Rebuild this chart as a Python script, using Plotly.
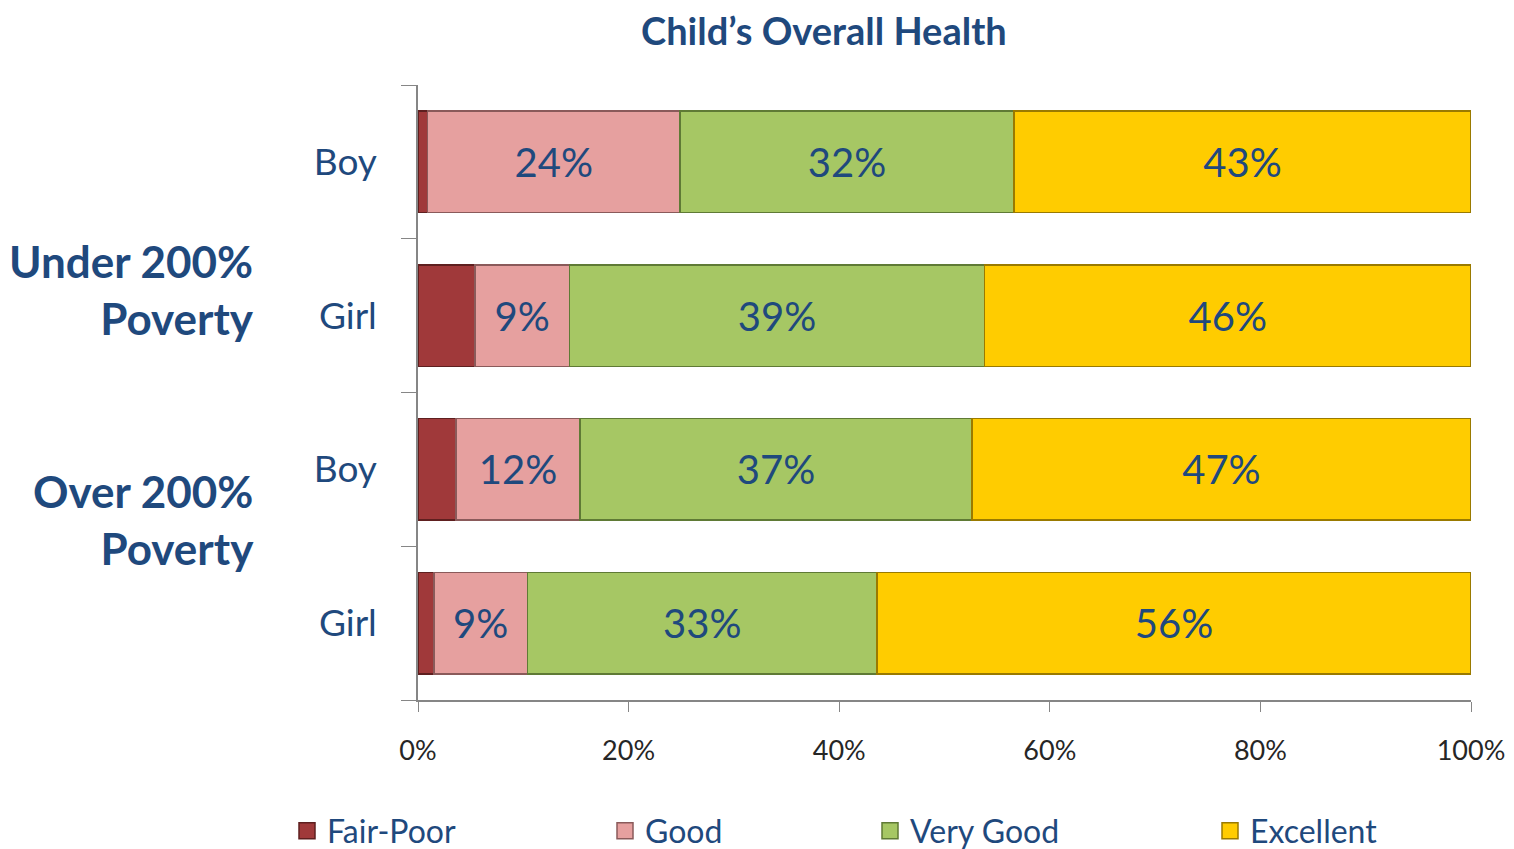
import plotly.graph_objects as go

# rows top to bottom
row_labels = ["Boy", "Girl", "Boy", "Girl"]
row_pos = [0, 1, 2, 3]
group_labels = ["Under 200%<br>Poverty", "Over 200%<br>Poverty"]

series_names = ["Fair-Poor", "Good", "Very Good", "Excellent"]
fair_poor = [0.9, 5.4, 3.6, 1.5]
good = [24.0, 9.0, 11.8, 8.9]
very_good = [31.7, 39.4, 37.2, 33.2]
excellent = [43.4, 46.2, 47.4, 56.4]

x_ticks = [0, 20, 40, 60, 80, 100]
x_tick_text = ["0%", "20%", "40%", "60%", "80%", "100%"]

colors = ["#A0393A", "#E6A09F", "#A6C764", "#FFCC00"]
edge_colors = ["#5E1F1F", "#8A5A5A", "#5F7A35", "#9A7A00"]
navy = "#1F497D"
font_family = "Lato, 'Open Sans', sans-serif"

# the page body adds an 8px offset, so the figure is sized to fit inside it
W, H = 1506, 841
legend_x = [279, 597, 862, 1202]  # left edge of each legend entry, px

fig = go.Figure()
all_vals = [fair_poor, good, very_good, excellent]
for i, (name, vals) in enumerate(zip(series_names, all_vals)):
    fig.add_trace(go.Bar(
        name=name,
        x=vals,
        y=row_pos,
        orientation="h",
        marker=dict(color=colors[i], line=dict(color=edge_colors[i], width=1.5)),
        texttemplate=None if i == 0 else "%{x:.0f}%",
        textposition="none" if i == 0 else "inside",
        insidetextanchor="middle",
        textangle=0,
        textfont=dict(size=40, color=navy, family=font_family),
        hoverinfo="skip",
        showlegend=False,
    ))

# legend entries with bigger square swatches, each in its own legend
for i, name in enumerate(series_names):
    key = "legend" if i == 0 else "legend%d" % (i + 1)
    fig.add_trace(go.Scatter(
        name=name,
        x=[None], y=[None],
        mode="markers",
        marker=dict(symbol="square", size=18, color=colors[i],
                    line=dict(color=edge_colors[i], width=1.5)),
        legend=key,
        hoverinfo="skip",
    ))

legend_common = dict(
    orientation="h",
    yanchor="middle",
    y=-0.213,
    xanchor="left",
    font=dict(size=32, color=navy, family=font_family),
    bgcolor="rgba(0,0,0,0)",
)

fig.update_layout(
    width=W,
    height=H,
    barmode="stack",
    bargap=0.34,
    plot_bgcolor="white",
    paper_bgcolor="white",
    margin=dict(l=410, r=43, t=77, b=149, autoexpand=False),
    font=dict(family=font_family),
    legend=dict(x=(legend_x[0] - 410) / 1053, **legend_common),
    legend2=dict(x=(legend_x[1] - 410) / 1053, **legend_common),
    legend3=dict(x=(legend_x[2] - 410) / 1053, **legend_common),
    legend4=dict(x=(legend_x[3] - 410) / 1053, **legend_common),
)

# chart title as an annotation above the plot
fig.add_annotation(
    text="<b>Child’s Overall Health</b>",
    xref="paper", yref="paper",
    x=(816 - 410) / 1053, y=1 + (77 - 22) / 615,
    xanchor="center", yanchor="middle",
    showarrow=False,
    font=dict(size=38, color=navy, family=font_family),
)

fig.update_xaxes(
    range=[0, 100],
    tickvals=x_ticks,
    ticktext=x_tick_text,
    ticks="outside",
    ticklen=10,
    tickcolor="#868686",
    showline=True,
    linecolor="#868686",
    linewidth=1.5,
    showgrid=False,
    zeroline=False,
    tickfont=dict(size=27, color="#262626", family=font_family),
    ticklabelstandoff=16,
)

fig.update_yaxes(
    range=[3.5, -0.5],
    tickvals=row_pos,
    ticktext=row_labels,
    ticks="",
    showline=True,
    linecolor="#868686",
    linewidth=1.5,
    showgrid=False,
    zeroline=False,
    tickfont=dict(size=37, color=navy, family=font_family),
    ticklabelstandoff=32,
    minor=dict(
        tickvals=[-0.5, 0.5, 1.5, 2.5, 3.5],
        ticks="outside",
        ticklen=15,
        tickcolor="#868686",
        showgrid=False,
    ),
)

for text, ypos in zip(group_labels, [0.668, 0.294]):
    fig.add_annotation(
        text="<b>" + text + "</b>",
        xref="paper", yref="paper",
        x=-0.154, y=ypos,
        xanchor="right", yanchor="middle",
        align="right",
        showarrow=False,
        font=dict(size=44, color=navy, family=font_family),
    )

fig.write_html("out.html")
